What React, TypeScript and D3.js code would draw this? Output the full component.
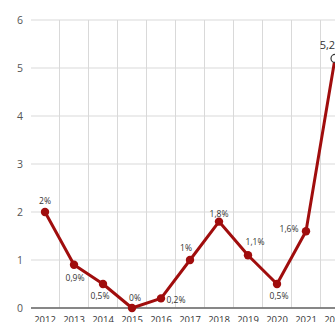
import React from "react";
import * as d3 from "d3";

const years = ["2012", "2013", "2014", "2015", "2016", "2017", "2018", "2019", "2020", "2021", "2022"];
const values = [2, 0.9, 0.5, 0, 0.2, 1, 1.8, 1.1, 0.5, 1.6, 5.2];
const labels = ["2%", "0,9%", "0,5%", "0%", "0,2%", "1%", "1,8%", "1,1%", "0,5%", "1,6%", "5,2%"];
const yTicks = [0, 1, 2, 3, 4, 5, 6];
// label offsets relative to point (dx, dy of text center)
const labelOffsets: [number, number][] = [
  [0, -11], [1, 13], [-3, 12], [3, -10], [15, 2], [-4, -12], [0, -8], [7, -13], [2, 12], [-17, -2], [-3, -13],
];

export default function App() {
  const W = 335, H = 322;
  const x = d3.scaleBand<string>().domain(years).range([30.5, 30.5 + years.length * 29]).padding(0);
  const y = d3.scaleLinear().domain([0, 6]).range([308, 20]);
  const cx = (d: string) => (x(d) as number) + x.bandwidth() / 2;
  const line = d3.line<number>().x((_, i) => cx(years[i])).y((v) => y(v));
  const last = values.length - 1;
  return (
    <svg width={W} height={H} style={{ position: "absolute", left: 0, top: 0, background: "#fff" }}
      fontFamily="'Open Sans', Roboto, sans-serif">
      {yTicks.map((t) => (
        <g key={t}>
          <line x1={31} x2={W} y1={y(t)} y2={y(t)} stroke="#d9d9d9" strokeWidth={1} />
          <text x={23} y={y(t)} dy="0.35em" textAnchor="end" fontSize={10.5} fill="#555">{t}</text>
        </g>
      ))}
      {years.slice(1).map((yr) => (
        <line key={yr} x1={x(yr) as number} x2={x(yr) as number} y1={y(6)} y2={y(0)} stroke="#d9d9d9" strokeWidth={1} />
      ))}
      <line x1={31} x2={W} y1={y(0)} y2={y(0)} stroke="#666" strokeWidth={1.5} />
      {years.map((yr) => (
        <text key={yr} x={cx(yr)} y={323} textAnchor="middle" fontSize={9.5} fill="#333">{yr}</text>
      ))}
      <path d={line(values) || ""} fill="none" stroke="#a00d0d" strokeWidth={3} strokeLinejoin="round" />
      {values.map((v, i) =>
        i === last ? (
          <circle key={i} cx={cx(years[i])} cy={y(v)} r={4} fill="#fff" stroke="#333" strokeWidth={1.2} />
        ) : (
          <circle key={i} cx={cx(years[i])} cy={y(v)} r={4.2} fill="#a00d0d" />
        )
      )}
      {values.map((v, i) => (
        <text key={"l" + i} x={cx(years[i]) + labelOffsets[i][0]} y={y(v) + labelOffsets[i][1]} dy="0.35em"
          textAnchor="middle" fontSize={i === last ? 11 : 8.5} fill="#333">{labels[i]}</text>
      ))}
    </svg>
  );
}
